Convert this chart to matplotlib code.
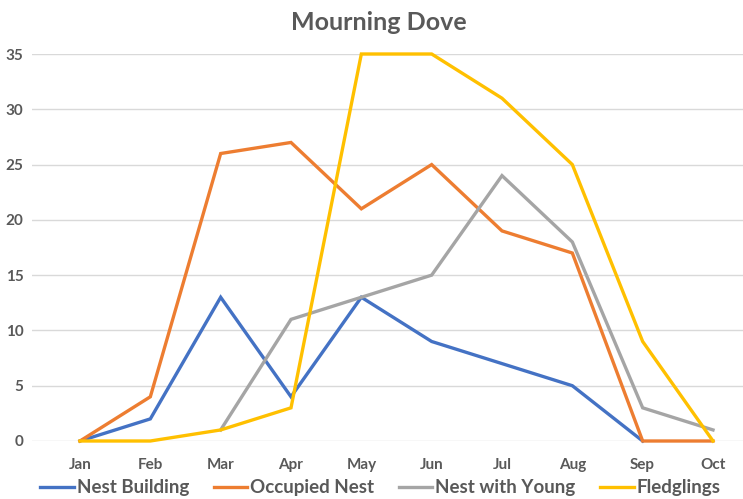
import matplotlib
matplotlib.use("Agg")
import matplotlib.pyplot as plt
import numpy as np

months = ["Jan", "Feb", "Mar", "Apr", "May", "Jun", "Jul", "Aug", "Sep", "Oct"]
nest_building = [0, 2, 13, 4, 13, 9, 7, 5, 0, None]
occupied_nest = [0, 4, 26, 27, 21, 25, 19, 17, 0, 0]
nest_with_young = [None, None, 1, 11, 13, 15, 24, 18, 3, 1]
fledglings = [0, 0, 1, 3, 35, 35, 31, 25, 9, 0]
yticks = [0, 5, 10, 15, 20, 25, 30, 35]

plt.rcParams['font.family'] = ['Lato', 'DejaVu Sans']

fig = plt.figure(figsize=(7.43, 4.99), dpi=100)
ax = fig.add_axes([32/743, 1-441/499, 1-32/743, (441-54)/499])

x = np.arange(len(months))
def arr(v):
    return np.array([np.nan if a is None else a for a in v], dtype=float)

series = [
    ("Nest Building", nest_building, "#4472C4"),
    ("Occupied Nest", occupied_nest, "#ED7D31"),
    ("Nest with Young", nest_with_young, "#A5A5A5"),
    ("Fledglings", fledglings, "#FFC000"),
]
handles = []
for name, vals, col in series:
    h, = ax.plot(x, arr(vals), color=col, lw=2.4, label=name, solid_joinstyle='miter', clip_on=False)
    handles.append(h)

ax.set_xlim(-48/70.33, 9 + 30/70.33)
ax.set_ylim(0, 35)
ax.set_yticks(yticks)
ax.set_xticks(x)
ax.set_xticklabels(months)
ax.yaxis.grid(True, color="#D9D9D9", lw=1)
ax.set_axisbelow(True)
for s in ax.spines.values():
    s.set_visible(False)
ax.tick_params(axis='both', length=0, colors="#595959", labelsize=11)
ax.tick_params(axis='x', pad=12)
ax.tick_params(axis='y', pad=6)
for lab in ax.get_xticklabels() + ax.get_yticklabels():
    lab.set_fontweight('bold')
    lab.set_color("#595959")

fig.text(0.51, 1-22/499, "Mourning Dove", ha='center', va='center', fontsize=18,
         fontweight='bold', color="#595959")

leg = fig.legend(handles=handles, loc='center', bbox_to_anchor=(0.512, 1-488/499), ncol=4,
                 frameon=False, prop={'size': 13.5, 'weight': 'bold'}, handlelength=1.8,
                 handletextpad=0.15, columnspacing=1.3)
for t in leg.get_texts():
    t.set_color("#595959")

fig.savefig("out.png", dpi=100)
